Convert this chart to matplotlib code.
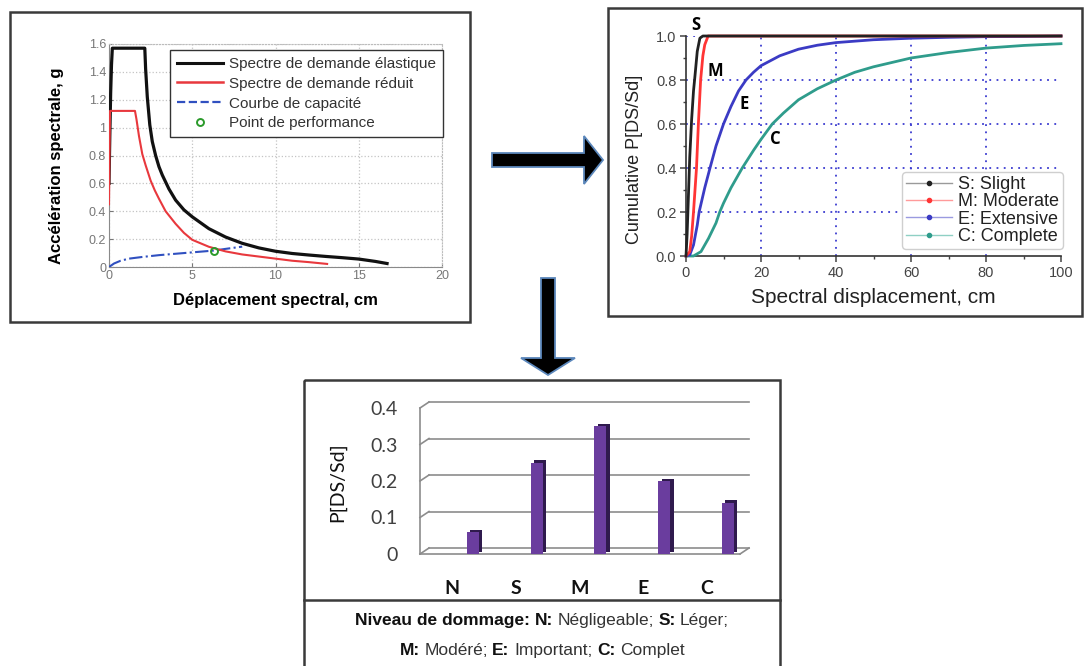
import matplotlib
matplotlib.use('Agg')
import matplotlib.pyplot as plt
from matplotlib.lines import Line2D
from matplotlib.patches import Rectangle, Polygon
from matplotlib.transforms import ScaledTranslation, IdentityTransform
import numpy as np

# ---------------- data ----------------
# Panel 1: capacity spectrum method (Sd in cm, Sa in g)
el_x = [0, 0.05, 0.1, 0.15, 0.2, 2.15, 2.2, 2.3, 2.45, 2.6, 2.8, 3.0, 3.2, 3.6, 4.0, 4.5, 5.0, 6.0,
        7.0, 8.0, 9.0, 10.0, 11.0, 12.0, 13.0, 14.0, 15.0, 16.0, 16.7]
el_y = [0.6, 0.95, 1.25, 1.45, 1.57, 1.57, 1.42, 1.22, 1.02, 0.9, 0.8, 0.72, 0.66, 0.56, 0.48,
        0.41, 0.36, 0.275, 0.215, 0.17, 0.137, 0.113, 0.097, 0.086, 0.076, 0.067, 0.057, 0.04, 0.025]
red_x = [0, 0.03, 0.06, 1.56, 1.65, 1.8, 2.0, 2.2, 2.5, 2.75, 3.0, 3.4, 4.0, 4.5, 5.0, 6.0, 7.0,
         8.0, 9.0, 10.0, 11.0, 12.0, 13.1]
red_y = [0.45, 0.8, 1.12, 1.12, 1.06, 0.94, 0.81, 0.73, 0.62, 0.55, 0.49, 0.4, 0.31, 0.245, 0.195,
         0.145, 0.112, 0.09, 0.075, 0.06, 0.045, 0.035, 0.022]
cap_x = [0, 0.3, 0.7, 1.2, 2.0, 3.0, 4.0, 5.0, 6.3, 7.0, 8.0]
cap_y = [0, 0.025, 0.045, 0.06, 0.072, 0.085, 0.095, 0.105, 0.118, 0.13, 0.146]
perf_x = [6.3]
perf_y = [0.115]
p1_labels = ["Spectre de demande élastique", "Spectre de demande réduit",
             "Courbe de capacité", "Point de performance"]
p1_xticks = [0, 5, 10, 15, 20]
p1_yticks = [0, 0.2, 0.4, 0.6, 0.8, 1.0, 1.2, 1.4, 1.6]
p1_yticklabels = ["0", "0.2", "0.4", "0.6", "0.8", "1", "1.2", "1.4", "1.6"]

# Panel 2: fragility curves
s_x = [0, 0.3, 0.6, 1.0, 1.5, 2.0, 2.4, 3.0, 3.7, 4.5, 100]
s_y = [0, 0.1, 0.25, 0.45, 0.62, 0.75, 0.82, 0.93, 0.99, 1.0, 1.0]
m_x = [0, 1.0, 1.5, 2.0, 2.4, 2.8, 3.3, 3.9, 4.5, 5.0, 5.9, 100]
m_y = [0, 0.02, 0.09, 0.2, 0.3, 0.4, 0.6, 0.8, 0.91, 0.96, 1.0, 1.0]
e_x = [0, 1, 2, 3, 3.5, 5, 6.4, 8, 10, 12, 14, 16, 18, 20, 25, 30, 35, 40, 50, 60, 70, 80, 90, 100]
e_y = [0, 0.005, 0.05, 0.14, 0.2, 0.31, 0.4, 0.5, 0.6, 0.68, 0.75, 0.8, 0.835, 0.865, 0.91,
       0.94, 0.958, 0.97, 0.983, 0.99, 0.994, 0.997, 0.998, 1.0]
c_x = [0, 2, 4, 6, 8, 9, 10, 12, 15, 18, 20, 23, 26, 30, 35, 40, 45, 50, 60, 70, 80, 90, 100]
c_y = [0, 0.0, 0.02, 0.08, 0.15, 0.2, 0.24, 0.31, 0.4, 0.48, 0.53, 0.6, 0.65, 0.71, 0.76, 0.8,
       0.835, 0.86, 0.9, 0.925, 0.945, 0.957, 0.965]
p2_labels = ["S: Slight", "M: Moderate", "E: Extensive", "C: Complete"]
p2_xticks = [0, 20, 40, 60, 80, 100]
p2_yticks = [0.0, 0.2, 0.4, 0.6, 0.8, 1.0]
p2_grid_x = [20, 40, 60, 80]
p2_grid_y = [0.2, 0.4, 0.6, 0.8, 1.0]

# Panel 3: damage state probabilities
cats = ["N", "S", "M", "E", "C"]
probs = [0.06, 0.25, 0.35, 0.20, 0.14]
p3_yticks = [0, 0.1, 0.2, 0.3, 0.4]
p3_yticklabels = ["0", "0.1", "0.2", "0.3", "0.4"]

# ---------------- figure ----------------
W, H = 1084, 666
fig = plt.figure(figsize=(W / 100, H / 100), dpi=100)
fig.patch.set_facecolor('white')
ARIAL = ['Liberation Sans', 'DejaVu Sans']
LATO = ['Lato', 'DejaVu Sans']


def axpos(l, t, r, b):
    return [l / W, (H - b) / H, (r - l) / W, (b - t) / H]


# overlay in pixel coordinates for frames and arrows
ov = fig.add_axes([0, 0, 1, 1])
ov.set_xlim(0, W)
ov.set_ylim(H, 0)
ov.axis('off')
frame_c = '#3a3a3a'
ov.add_patch(Rectangle((10, 12), 460, 310, fill=False, ec=frame_c, lw=1.8))
ov.add_patch(Rectangle((608, 8), 474, 308, fill=False, ec=frame_c, lw=1.8))
ov.add_patch(Rectangle((304, 380), 476, 300, fill=False, ec=frame_c, lw=1.8, clip_on=False))
ov.plot([304, 780], [600, 600], color=frame_c, lw=1.8)
arrow_edge = '#5b87bb'
ov.add_patch(Polygon([(492, 153), (584, 153), (584, 136), (603, 160), (584, 184), (584, 167), (492, 167)],
                     closed=True, fc='black', ec=arrow_edge, lw=1.3))
ov.add_patch(Polygon([(541, 278), (555, 278), (555, 358), (575, 358), (548, 375), (521, 358), (541, 358)],
                     closed=True, fc='black', ec=arrow_edge, lw=1.3))

# ---------------- panel 1 ----------------
ax1 = fig.add_axes(axpos(109, 44, 442, 267))
ax1.plot(el_x, el_y, color='#111111', lw=2.3, zorder=4)
ax1.plot(red_x, red_y, color='#e8383d', lw=1.5, zorder=4)
ax1.plot(cap_x, cap_y, color='#3050c0', lw=1.5, ls='-.', zorder=3)
ax1.plot(perf_x, perf_y, ls='none', marker='o', mfc='none', mec='#2a9a2a', ms=5, mew=1.4, zorder=5)
ax1.set_xlim(0, 20)
ax1.set_ylim(0, 1.6)
ax1.set_xticks(p1_xticks)
ax1.set_yticks(p1_yticks)
ax1.set_yticklabels(p1_yticklabels)
ax1.grid(True, color='#c4c4c4', ls=':', lw=0.9)
for sp in ['left', 'bottom']:
    ax1.spines[sp].set_color('#8a8a8a')
for sp in ['top', 'right']:
    ax1.spines[sp].set_color('#bcbcbc')
    ax1.spines[sp].set_linestyle(':')
ax1.tick_params(direction='in', length=3, colors='#777777', labelsize=9, pad=2)
for lab in ax1.get_xticklabels() + ax1.get_yticklabels():
    lab.set_family(ARIAL)
ax1.set_xlabel("Déplacement spectral, cm", fontsize=12, fontweight='bold', family=ARIAL)
ax1.set_ylabel("Accélération spectrale, g", fontsize=12, fontweight='bold', family=ARIAL)
ax1.xaxis.set_label_coords(0.5, -0.115)
ax1.yaxis.set_label_coords(-0.135, 0.453)
h1 = [Line2D([], [], color='#111111', lw=2.2),
      Line2D([], [], color='#e8383d', lw=1.8),
      Line2D([], [], color='#3050c0', lw=1.6, ls='--'),
      Line2D([], [], ls='none', marker='o', mfc='none', mec='#2a9a2a', ms=5, mew=1.4)]
leg1 = ax1.legend(h1, p1_labels, loc='upper right', bbox_to_anchor=(1.003, 0.973),
                  prop={'family': ARIAL, 'size': 11}, frameon=True, fancybox=False,
                  edgecolor='#333333', framealpha=1, handlelength=3.0, handletextpad=0.4,
                  labelspacing=0.38, borderpad=0.45, borderaxespad=0)
leg1.get_frame().set_linewidth(1.0)
for t in leg1.get_texts():
    t.set_color('#333333')

# ---------------- panel 2 ----------------
ax2 = fig.add_axes(axpos(686, 36, 1061, 256))
gcol = '#3c3cd0'
for gx in p2_grid_x:
    ax2.axvline(gx, color=gcol, ls=(0, (1, 3)), lw=1.3, zorder=1)
for gy in p2_grid_y:
    ax2.axhline(gy, color=gcol, ls=(0, (1, 3)), lw=1.3, zorder=1)
c_s, c_m, c_e, c_c = '#222222', '#ff3535', '#3b3bc4', '#2f9c8c'
ax2.plot(c_x, c_y, color=c_c, lw=2.0, clip_on=False, zorder=3)
ax2.plot(e_x, e_y, color=c_e, lw=2.0, clip_on=False, zorder=3)
ax2.plot(m_x, m_y, color=c_m, lw=2.0, clip_on=False, zorder=4)
ax2.plot(s_x, s_y, color=c_s, lw=2.0, clip_on=False, zorder=5)
ax2.set_xlim(0, 100)
ax2.set_ylim(0, 1.0)
ax2.set_xticks(p2_xticks)
ax2.set_xticks([10, 30, 50, 70, 90], minor=True)
ax2.set_yticks(p2_yticks)
ax2.set_yticklabels(["%.1f" % v for v in p2_yticks])
ax2.set_yticks([0.1, 0.3, 0.5, 0.7, 0.9], minor=True)
for sp in ['top', 'right']:
    ax2.spines[sp].set_visible(False)
for sp in ['left', 'bottom']:
    ax2.spines[sp].set_color('#333333')
    ax2.spines[sp].set_linewidth(1.2)
ax2.tick_params(which='major', direction='out', length=4, width=1.1, colors='#444444',
                labelsize=10.5, pad=3)
ax2.tick_params(which='minor', direction='out', length=2.5, width=1.0, colors='#444444')
for lab in ax2.get_xticklabels() + ax2.get_yticklabels():
    lab.set_family(ARIAL)
ax2.set_xlabel("Spectral displacement, cm", fontsize=15, family=ARIAL, color='#222222')
ax2.set_ylabel("Cumulative P[DS/Sd]", fontsize=13, family=ARIAL, color='#222222')
ax2.xaxis.set_label_coords(0.5, -0.145)
ax2.yaxis.set_label_coords(-0.115, 0.441)
for txt, tx, ty in [("S", 2.6, 1.05), ("M", 7.7, 0.84), ("E", 15.5, 0.69), ("C", 23.9, 0.53)]:
    ax2.text(tx, ty, txt, fontsize=12, fontweight='bold', family=['Open Sans', 'DejaVu Sans'],
             ha='center', va='center', zorder=6)
light = ['#9a9a9a', '#ff9a9a', '#9a9ae0', '#8fd0c4']
h2 = [Line2D([], [], color=lc, lw=1.0, marker='o', ms=3, mfc=c, mec=c)
      for lc, c in zip(light, [c_s, c_m, c_e, c_c])]
leg2 = ax2.legend(h2, p2_labels, loc='lower right', bbox_to_anchor=(1.004, 0.033),
                  prop={'family': ARIAL, 'size': 13}, frameon=True, fancybox=True,
                  edgecolor='#cfcfcf', framealpha=1, handlelength=2.6, handletextpad=0.3,
                  labelspacing=0.02, borderpad=0.2, borderaxespad=0, numpoints=1)
for t in leg2.get_texts():
    t.set_color('#222222')
leg2.set_zorder(7)

# ---------------- panel 3 ----------------
ax3 = fig.add_axes(axpos(420, 408, 740, 554))
x3 = np.arange(len(cats))
off = ScaledTranslation(9 / 100, 6 / 100, fig.dpi_scale_trans)
for gy in p3_yticks:
    ax3.plot([0, 1], [gy, gy], color='#8c8c8c', lw=1.2, transform=ax3.get_yaxis_transform() + off,
             clip_on=False, zorder=1)
shadow = ax3.bar(x3, probs, width=0.19, color='#2f1a4d', zorder=2)
bar_off = ScaledTranslation(3.5 / 100, 2.5 / 100, fig.dpi_scale_trans)
for r in shadow:
    r.set_transform(ax3.transData + bar_off)
    r.set_clip_on(False)
ax3.bar(x3, probs, width=0.19, color='#6a3d9e', zorder=3)
ax3.set_xlim(-0.83, 4.19)
ax3.set_ylim(0, 0.4)
ax3.set_xticks([])
ax3.set_yticks(p3_yticks)
ax3.set_yticklabels(p3_yticklabels)
ax3.tick_params(axis='y', length=0, pad=16, labelsize=14, labelcolor='#404040')
for lab in ax3.get_yticklabels():
    lab.set_family(LATO)
for sp in ['top', 'right']:
    ax3.spines[sp].set_visible(False)
for sp in ['left', 'bottom']:
    ax3.spines[sp].set_color('#8c8c8c')
    ax3.spines[sp].set_linewidth(1.2)
ax3.set_facecolor('none')
# depth slants of the 3-D wall and floor
yt = ax3.get_yaxis_transform()
for gy in p3_yticks:
    x0, y0 = yt.transform((0, gy))
    fig.add_artist(Line2D([x0, x0 + 9], [y0, y0 + 6], color='#8c8c8c', lw=1.2,
                          transform=IdentityTransform()))
xr, yr = ax3.transAxes.transform((1, 0))
fig.add_artist(Line2D([xr, xr + 9], [yr, yr + 6], color='#8c8c8c', lw=1.2,
                      transform=IdentityTransform()))
lab_tr = ax3.get_xaxis_transform() + ScaledTranslation(-0.21, -0.34, fig.dpi_scale_trans)
for xi, c in zip(x3, cats):
    ax3.text(xi, 0, c, transform=lab_tr, ha='center', va='center', fontsize=14,
             fontweight='bold', family=LATO, color='#111111')
ax3.set_ylabel("P[DS/Sd]", fontsize=14, family=LATO, color='#111111')
ax3.yaxis.set_label_coords(-0.232, 0.493)

# caption under the bar chart (mixed bold / regular)
lines = [
    [("Niveau de dommage:", 'bold'), ("N:", 'bold'), ("Négligeable;", 'normal'),
     ("S:", 'bold'), ("Léger;", 'normal')],
    [("M:", 'bold'), ("Modéré;", 'normal'), ("E:", 'bold'), ("Important;", 'normal'),
     ("C:", 'bold'), ("Complet", 'normal')],
]
line_y = [625, 655]
fs_cap = 12.5
renderer = fig.canvas.get_renderer()
space_px = 4.6
for pieces, yy in zip(lines, line_y):
    texts = []
    widths = []
    for s, wgt in pieces:
        t = ov.text(0, yy, s, fontsize=fs_cap, fontweight=wgt, family=ARIAL,
                    color='#111111' if wgt == 'bold' else '#333333', ha='left', va='baseline')
        texts.append(t)
        widths.append(t.get_window_extent(renderer=renderer).width)
    total = sum(widths) + space_px * (len(widths) - 1)
    x = 542 - total / 2
    for t, w in zip(texts, widths):
        t.set_x(x)
        x += w + space_px

fig.savefig('out.png', dpi=100, facecolor='white')
